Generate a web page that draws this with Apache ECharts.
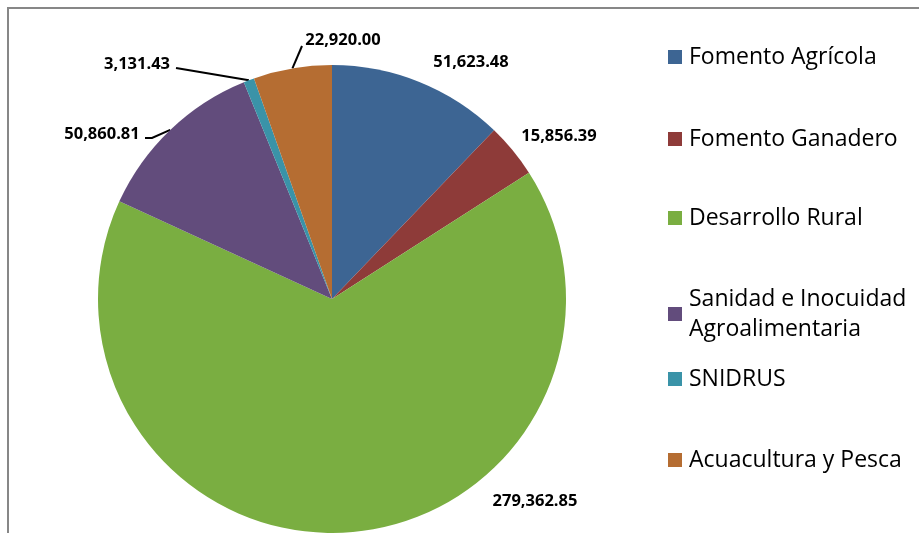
<!DOCTYPE html>
<html><head><meta charset="utf-8">
<script src="https://cdn.jsdelivr.net/npm/echarts@6/dist/echarts.min.js"></script>
<style>html,body{margin:0;padding:0;background:#fff}#c{width:919px;height:533px}</style>
</head><body><div id="c"></div>
<script>
const categories = ['Fomento Agrícola','Fomento Ganadero','Desarrollo Rural','Sanidad e Inocuidad Agroalimentaria','SNIDRUS','Acuacultura y Pesca'];
const values = [51623.48, 15856.39, 279362.85, 50860.81, 3131.43, 22920.00];
const colors = ['#3D6593','#8E3B39','#7AAE41','#624C7C','#3A93A8','#B56D32'];
const legendLabels = ['Fomento Agrícola','Fomento Ganadero','Desarrollo Rural','Sanidad e Inocuidad\nAgroalimentaria','SNIDRUS','Acuacultura y Pesca'];
const showLeader = [false,false,false,true,true,true];

// layout (positions of legend entries and data labels, as in the reference)
const legendTops = [37,119,198,279,359,440];
const labelLayoutTable = [
  {x:471,y:62,line:[]},
  {x:559,y:136,line:[]},
  {x:535,y:501,line:[]},
  {x:102,y:134,line:[[152,138],[145,138]]},
  {x:137,y:64,line:[[176,68]]},
  {x:343,y:40,line:[[302,46]]}
];

const fmt = v => v.toLocaleString('en-US',{minimumFractionDigits:2,maximumFractionDigits:2});
const chart = echarts.init(document.getElementById('c'));
chart.setOption({
  animation:false,
  graphic:[{type:'rect',shape:{x:8,y:8,width:1000,height:1000},style:{fill:'none',stroke:'#878787',lineWidth:2},silent:true,z:-1}],
  legend: categories.map((c,i)=>({
    data:[c], orient:'vertical', left:663, top:legendTops[i],
    itemWidth:14,itemHeight:14,itemGap:0,icon:'rect',
    formatter:()=>legendLabels[i],
    textStyle:{fontFamily:'Open Sans',fontSize:23,color:'#000',lineHeight:30,padding:[0,0,0,2]}
  })),
  series:[{
    type:'pie', center:[332,299], radius:234, startAngle:90, clockwise:true,
    avoidLabelOverlap:false,
    label:{show:true,position:'outside',formatter:p=>fmt(p.value),fontFamily:'Open Sans',fontWeight:'bold',fontSize:16.5,color:'#000'},
    labelLine:{length:8,length2:18,lineStyle:{color:'#000',width:2}},
    labelLayout:function(params){
      const i=params.dataIndex, L=labelLayoutTable[i];
      const out={x:L.x,y:L.y,align:'center',verticalAlign:'middle',hideOverlap:false};
      if(showLeader[i] && params.labelLinePoints){
        out.labelLinePoints=[params.labelLinePoints[0]].concat(L.line);
      }
      return out;
    },
    data: categories.map((c,i)=>({name:c,value:values[i],itemStyle:{color:colors[i]},labelLine:{show:showLeader[i]}}))
  }]
});
</script></body></html>
